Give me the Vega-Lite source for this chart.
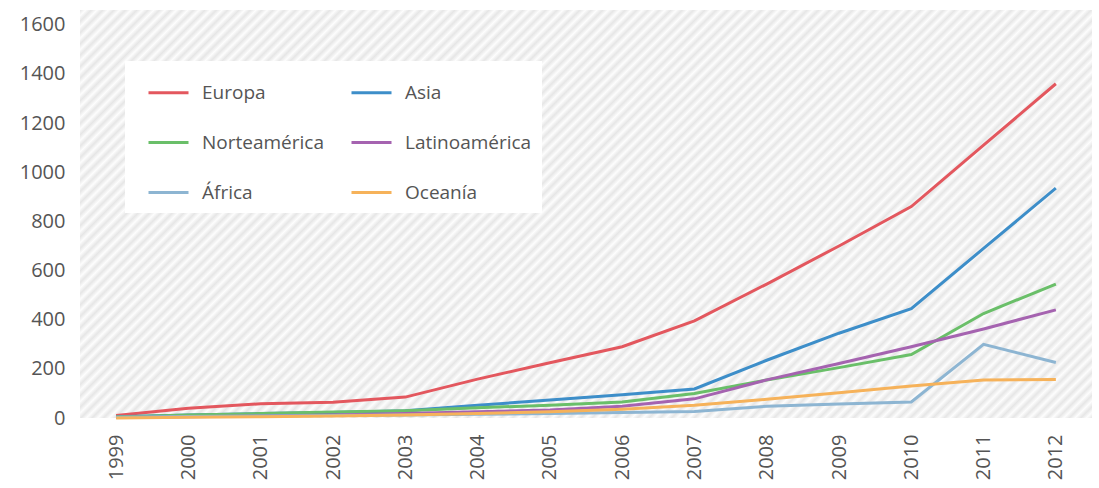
{
  "$schema": "https://vega.github.io/schema/vega-lite/v6.json",
  "width": 1012,
  "height": 408,
  "autosize": {"type": "none"},
  "padding": {"left": 80, "top": 10, "right": 7, "bottom": 70},
  "background": "white",
  "config": {
    "font": "Open Sans",
    "view": {
      "stroke": null,
      "fill": {
        "gradient": "linear", "x1": 0, "y1": 0, "x2": 1.207, "y2": 0.487,
        "stops": [
{"offset":0,"color":"#e6e6e6"},{"offset":0.004,"color":"#fdfdfd"},{"offset":0.008,"color":"#e6e6e6"},{"offset":0.012,"color":"#fdfdfd"},{"offset":0.016,"color":"#e6e6e6"},{"offset":0.02,"color":"#fdfdfd"},{"offset":0.024,"color":"#e6e6e6"},{"offset":0.028,"color":"#fdfdfd"},{"offset":0.032,"color":"#e6e6e6"},{"offset":0.036,"color":"#fdfdfd"},
{"offset":0.04,"color":"#e6e6e6"},{"offset":0.044,"color":"#fdfdfd"},{"offset":0.048,"color":"#e6e6e6"},{"offset":0.052,"color":"#fdfdfd"},{"offset":0.056,"color":"#e6e6e6"},{"offset":0.06,"color":"#fdfdfd"},{"offset":0.064,"color":"#e6e6e6"},{"offset":0.068,"color":"#fdfdfd"},{"offset":0.072,"color":"#e6e6e6"},{"offset":0.076,"color":"#fdfdfd"},
{"offset":0.08,"color":"#e6e6e6"},{"offset":0.084,"color":"#fdfdfd"},{"offset":0.088,"color":"#e6e6e6"},{"offset":0.092,"color":"#fdfdfd"},{"offset":0.096,"color":"#e6e6e6"},{"offset":0.1,"color":"#fdfdfd"},{"offset":0.104,"color":"#e6e6e6"},{"offset":0.108,"color":"#fdfdfd"},{"offset":0.112,"color":"#e6e6e6"},{"offset":0.116,"color":"#fdfdfd"},
{"offset":0.12,"color":"#e6e6e6"},{"offset":0.124,"color":"#fdfdfd"},{"offset":0.128,"color":"#e6e6e6"},{"offset":0.132,"color":"#fdfdfd"},{"offset":0.136,"color":"#e6e6e6"},{"offset":0.14,"color":"#fdfdfd"},{"offset":0.144,"color":"#e6e6e6"},{"offset":0.148,"color":"#fdfdfd"},{"offset":0.152,"color":"#e6e6e6"},{"offset":0.156,"color":"#fdfdfd"},
{"offset":0.16,"color":"#e6e6e6"},{"offset":0.164,"color":"#fdfdfd"},{"offset":0.168,"color":"#e6e6e6"},{"offset":0.172,"color":"#fdfdfd"},{"offset":0.176,"color":"#e6e6e6"},{"offset":0.18,"color":"#fdfdfd"},{"offset":0.184,"color":"#e6e6e6"},{"offset":0.188,"color":"#fdfdfd"},{"offset":0.192,"color":"#e6e6e6"},{"offset":0.196,"color":"#fdfdfd"},
{"offset":0.2,"color":"#e6e6e6"},{"offset":0.204,"color":"#fdfdfd"},{"offset":0.208,"color":"#e6e6e6"},{"offset":0.212,"color":"#fdfdfd"},{"offset":0.216,"color":"#e6e6e6"},{"offset":0.22,"color":"#fdfdfd"},{"offset":0.224,"color":"#e6e6e6"},{"offset":0.228,"color":"#fdfdfd"},{"offset":0.232,"color":"#e6e6e6"},{"offset":0.236,"color":"#fdfdfd"},
{"offset":0.24,"color":"#e6e6e6"},{"offset":0.244,"color":"#fdfdfd"},{"offset":0.248,"color":"#e6e6e6"},{"offset":0.252,"color":"#fdfdfd"},{"offset":0.256,"color":"#e6e6e6"},{"offset":0.26,"color":"#fdfdfd"},{"offset":0.264,"color":"#e6e6e6"},{"offset":0.268,"color":"#fdfdfd"},{"offset":0.272,"color":"#e6e6e6"},{"offset":0.276,"color":"#fdfdfd"},
{"offset":0.28,"color":"#e6e6e6"},{"offset":0.284,"color":"#fdfdfd"},{"offset":0.288,"color":"#e6e6e6"},{"offset":0.292,"color":"#fdfdfd"},{"offset":0.296,"color":"#e6e6e6"},{"offset":0.3,"color":"#fdfdfd"},{"offset":0.304,"color":"#e6e6e6"},{"offset":0.308,"color":"#fdfdfd"},{"offset":0.312,"color":"#e6e6e6"},{"offset":0.316,"color":"#fdfdfd"},
{"offset":0.32,"color":"#e6e6e6"},{"offset":0.324,"color":"#fdfdfd"},{"offset":0.328,"color":"#e6e6e6"},{"offset":0.332,"color":"#fdfdfd"},{"offset":0.336,"color":"#e6e6e6"},{"offset":0.34,"color":"#fdfdfd"},{"offset":0.344,"color":"#e6e6e6"},{"offset":0.348,"color":"#fdfdfd"},{"offset":0.352,"color":"#e6e6e6"},{"offset":0.356,"color":"#fdfdfd"},
{"offset":0.36,"color":"#e6e6e6"},{"offset":0.364,"color":"#fdfdfd"},{"offset":0.368,"color":"#e6e6e6"},{"offset":0.372,"color":"#fdfdfd"},{"offset":0.376,"color":"#e6e6e6"},{"offset":0.38,"color":"#fdfdfd"},{"offset":0.384,"color":"#e6e6e6"},{"offset":0.388,"color":"#fdfdfd"},{"offset":0.392,"color":"#e6e6e6"},{"offset":0.396,"color":"#fdfdfd"},
{"offset":0.4,"color":"#e6e6e6"},{"offset":0.404,"color":"#fdfdfd"},{"offset":0.408,"color":"#e6e6e6"},{"offset":0.412,"color":"#fdfdfd"},{"offset":0.416,"color":"#e6e6e6"},{"offset":0.42,"color":"#fdfdfd"},{"offset":0.424,"color":"#e6e6e6"},{"offset":0.428,"color":"#fdfdfd"},{"offset":0.432,"color":"#e6e6e6"},{"offset":0.436,"color":"#fdfdfd"},
{"offset":0.44,"color":"#e6e6e6"},{"offset":0.444,"color":"#fdfdfd"},{"offset":0.448,"color":"#e6e6e6"},{"offset":0.452,"color":"#fdfdfd"},{"offset":0.456,"color":"#e6e6e6"},{"offset":0.46,"color":"#fdfdfd"},{"offset":0.464,"color":"#e6e6e6"},{"offset":0.468,"color":"#fdfdfd"},{"offset":0.472,"color":"#e6e6e6"},{"offset":0.476,"color":"#fdfdfd"},
{"offset":0.48,"color":"#e6e6e6"},{"offset":0.484,"color":"#fdfdfd"},{"offset":0.488,"color":"#e6e6e6"},{"offset":0.492,"color":"#fdfdfd"},{"offset":0.496,"color":"#e6e6e6"},{"offset":0.5,"color":"#fdfdfd"},{"offset":0.504,"color":"#e6e6e6"},{"offset":0.508,"color":"#fdfdfd"},{"offset":0.512,"color":"#e6e6e6"},{"offset":0.516,"color":"#fdfdfd"},
{"offset":0.52,"color":"#e6e6e6"},{"offset":0.524,"color":"#fdfdfd"},{"offset":0.528,"color":"#e6e6e6"},{"offset":0.532,"color":"#fdfdfd"},{"offset":0.536,"color":"#e6e6e6"},{"offset":0.54,"color":"#fdfdfd"},{"offset":0.544,"color":"#e6e6e6"},{"offset":0.548,"color":"#fdfdfd"},{"offset":0.552,"color":"#e6e6e6"},{"offset":0.556,"color":"#fdfdfd"},
{"offset":0.56,"color":"#e6e6e6"},{"offset":0.564,"color":"#fdfdfd"},{"offset":0.568,"color":"#e6e6e6"},{"offset":0.572,"color":"#fdfdfd"},{"offset":0.576,"color":"#e6e6e6"},{"offset":0.58,"color":"#fdfdfd"},{"offset":0.584,"color":"#e6e6e6"},{"offset":0.588,"color":"#fdfdfd"},{"offset":0.592,"color":"#e6e6e6"},{"offset":0.596,"color":"#fdfdfd"},
{"offset":0.6,"color":"#e6e6e6"},{"offset":0.604,"color":"#fdfdfd"},{"offset":0.608,"color":"#e6e6e6"},{"offset":0.612,"color":"#fdfdfd"},{"offset":0.616,"color":"#e6e6e6"},{"offset":0.62,"color":"#fdfdfd"},{"offset":0.624,"color":"#e6e6e6"},{"offset":0.628,"color":"#fdfdfd"},{"offset":0.632,"color":"#e6e6e6"},{"offset":0.636,"color":"#fdfdfd"},
{"offset":0.64,"color":"#e6e6e6"},{"offset":0.644,"color":"#fdfdfd"},{"offset":0.648,"color":"#e6e6e6"},{"offset":0.652,"color":"#fdfdfd"},{"offset":0.656,"color":"#e6e6e6"},{"offset":0.66,"color":"#fdfdfd"},{"offset":0.664,"color":"#e6e6e6"},{"offset":0.668,"color":"#fdfdfd"},{"offset":0.672,"color":"#e6e6e6"},{"offset":0.676,"color":"#fdfdfd"},
{"offset":0.68,"color":"#e6e6e6"},{"offset":0.684,"color":"#fdfdfd"},{"offset":0.688,"color":"#e6e6e6"},{"offset":0.692,"color":"#fdfdfd"},{"offset":0.696,"color":"#e6e6e6"},{"offset":0.7,"color":"#fdfdfd"},{"offset":0.704,"color":"#e6e6e6"},{"offset":0.708,"color":"#fdfdfd"},{"offset":0.712,"color":"#e6e6e6"},{"offset":0.716,"color":"#fdfdfd"},
{"offset":0.72,"color":"#e6e6e6"},{"offset":0.724,"color":"#fdfdfd"},{"offset":0.728,"color":"#e6e6e6"},{"offset":0.732,"color":"#fdfdfd"},{"offset":0.736,"color":"#e6e6e6"},{"offset":0.74,"color":"#fdfdfd"},{"offset":0.744,"color":"#e6e6e6"},{"offset":0.748,"color":"#fdfdfd"},{"offset":0.752,"color":"#e6e6e6"},{"offset":0.756,"color":"#fdfdfd"},
{"offset":0.76,"color":"#e6e6e6"},{"offset":0.764,"color":"#fdfdfd"},{"offset":0.768,"color":"#e6e6e6"},{"offset":0.772,"color":"#fdfdfd"},{"offset":0.776,"color":"#e6e6e6"},{"offset":0.78,"color":"#fdfdfd"},{"offset":0.784,"color":"#e6e6e6"},{"offset":0.788,"color":"#fdfdfd"},{"offset":0.792,"color":"#e6e6e6"},{"offset":0.796,"color":"#fdfdfd"},
{"offset":0.8,"color":"#e6e6e6"},{"offset":0.804,"color":"#fdfdfd"},{"offset":0.808,"color":"#e6e6e6"},{"offset":0.812,"color":"#fdfdfd"},{"offset":0.816,"color":"#e6e6e6"},{"offset":0.82,"color":"#fdfdfd"},{"offset":0.824,"color":"#e6e6e6"},{"offset":0.828,"color":"#fdfdfd"},{"offset":0.832,"color":"#e6e6e6"},{"offset":0.836,"color":"#fdfdfd"},
{"offset":0.84,"color":"#e6e6e6"},{"offset":0.844,"color":"#fdfdfd"},{"offset":0.848,"color":"#e6e6e6"},{"offset":0.852,"color":"#fdfdfd"},{"offset":0.856,"color":"#e6e6e6"},{"offset":0.86,"color":"#fdfdfd"},{"offset":0.864,"color":"#e6e6e6"},{"offset":0.868,"color":"#fdfdfd"},{"offset":0.872,"color":"#e6e6e6"},{"offset":0.876,"color":"#fdfdfd"},
{"offset":0.88,"color":"#e6e6e6"},{"offset":0.884,"color":"#fdfdfd"},{"offset":0.888,"color":"#e6e6e6"},{"offset":0.892,"color":"#fdfdfd"},{"offset":0.896,"color":"#e6e6e6"},{"offset":0.9,"color":"#fdfdfd"},{"offset":0.904,"color":"#e6e6e6"},{"offset":0.908,"color":"#fdfdfd"},{"offset":0.912,"color":"#e6e6e6"},{"offset":0.916,"color":"#fdfdfd"},
{"offset":0.92,"color":"#e6e6e6"},{"offset":0.924,"color":"#fdfdfd"},{"offset":0.928,"color":"#e6e6e6"},{"offset":0.932,"color":"#fdfdfd"},{"offset":0.936,"color":"#e6e6e6"},{"offset":0.94,"color":"#fdfdfd"},{"offset":0.944,"color":"#e6e6e6"},{"offset":0.948,"color":"#fdfdfd"},{"offset":0.952,"color":"#e6e6e6"},{"offset":0.956,"color":"#fdfdfd"},
{"offset":0.96,"color":"#e6e6e6"},{"offset":0.964,"color":"#fdfdfd"},{"offset":0.968,"color":"#e6e6e6"},{"offset":0.972,"color":"#fdfdfd"},{"offset":0.976,"color":"#e6e6e6"},{"offset":0.98,"color":"#fdfdfd"},{"offset":0.984,"color":"#e6e6e6"},{"offset":0.988,"color":"#fdfdfd"},{"offset":0.992,"color":"#e6e6e6"},{"offset":0.996,"color":"#fdfdfd"},
{"offset":1,"color":"#e6e6e6"}
        ]
      }
    },
    "axis": {"grid": false, "domain": false, "ticks": false, "labelColor": "#555555", "labelFontSize": 20, "labelFont": "Open Sans"}
  },
  "data": {
    "values": [
      {"year": 1999, "region": "Europa", "value": 10},
      {"year": 2000, "region": "Europa", "value": 40},
      {"year": 2001, "region": "Europa", "value": 58},
      {"year": 2002, "region": "Europa", "value": 64},
      {"year": 2003, "region": "Europa", "value": 85},
      {"year": 2004, "region": "Europa", "value": 158},
      {"year": 2005, "region": "Europa", "value": 225},
      {"year": 2006, "region": "Europa", "value": 290},
      {"year": 2007, "region": "Europa", "value": 395},
      {"year": 2008, "region": "Europa", "value": 545},
      {"year": 2009, "region": "Europa", "value": 700},
      {"year": 2010, "region": "Europa", "value": 860},
      {"year": 2011, "region": "Europa", "value": 1110},
      {"year": 2012, "region": "Europa", "value": 1360},
      {"year": 1999, "region": "Asia", "value": 5},
      {"year": 2000, "region": "Asia", "value": 12},
      {"year": 2001, "region": "Asia", "value": 18},
      {"year": 2002, "region": "Asia", "value": 22},
      {"year": 2003, "region": "Asia", "value": 30},
      {"year": 2004, "region": "Asia", "value": 52},
      {"year": 2005, "region": "Asia", "value": 73},
      {"year": 2006, "region": "Asia", "value": 95},
      {"year": 2007, "region": "Asia", "value": 118},
      {"year": 2008, "region": "Asia", "value": 235},
      {"year": 2009, "region": "Asia", "value": 345},
      {"year": 2010, "region": "Asia", "value": 445},
      {"year": 2011, "region": "Asia", "value": 690},
      {"year": 2012, "region": "Asia", "value": 935},
      {"year": 1999, "region": "Norteamérica", "value": 4},
      {"year": 2000, "region": "Norteamérica", "value": 12},
      {"year": 2001, "region": "Norteamérica", "value": 18},
      {"year": 2002, "region": "Norteamérica", "value": 24},
      {"year": 2003, "region": "Norteamérica", "value": 30},
      {"year": 2004, "region": "Norteamérica", "value": 42},
      {"year": 2005, "region": "Norteamérica", "value": 52},
      {"year": 2006, "region": "Norteamérica", "value": 65},
      {"year": 2007, "region": "Norteamérica", "value": 100},
      {"year": 2008, "region": "Norteamérica", "value": 155},
      {"year": 2009, "region": "Norteamérica", "value": 205},
      {"year": 2010, "region": "Norteamérica", "value": 258},
      {"year": 2011, "region": "Norteamérica", "value": 425},
      {"year": 2012, "region": "Norteamérica", "value": 545},
      {"year": 1999, "region": "Latinoamérica", "value": 2},
      {"year": 2000, "region": "Latinoamérica", "value": 5},
      {"year": 2001, "region": "Latinoamérica", "value": 8},
      {"year": 2002, "region": "Latinoamérica", "value": 12},
      {"year": 2003, "region": "Latinoamérica", "value": 18},
      {"year": 2004, "region": "Latinoamérica", "value": 25},
      {"year": 2005, "region": "Latinoamérica", "value": 33},
      {"year": 2006, "region": "Latinoamérica", "value": 48},
      {"year": 2007, "region": "Latinoamérica", "value": 78},
      {"year": 2008, "region": "Latinoamérica", "value": 155},
      {"year": 2009, "region": "Latinoamérica", "value": 222},
      {"year": 2010, "region": "Latinoamérica", "value": 290},
      {"year": 2011, "region": "Latinoamérica", "value": 362},
      {"year": 2012, "region": "Latinoamérica", "value": 440},
      {"year": 1999, "region": "África", "value": 3},
      {"year": 2000, "region": "África", "value": 6},
      {"year": 2001, "region": "África", "value": 8},
      {"year": 2002, "region": "África", "value": 10},
      {"year": 2003, "region": "África", "value": 12},
      {"year": 2004, "region": "África", "value": 15},
      {"year": 2005, "region": "África", "value": 18},
      {"year": 2006, "region": "África", "value": 22},
      {"year": 2007, "region": "África", "value": 26},
      {"year": 2008, "region": "África", "value": 48},
      {"year": 2009, "region": "África", "value": 57},
      {"year": 2010, "region": "África", "value": 65},
      {"year": 2011, "region": "África", "value": 300},
      {"year": 2012, "region": "África", "value": 226},
      {"year": 1999, "region": "Oceanía", "value": 0},
      {"year": 2000, "region": "Oceanía", "value": 3},
      {"year": 2001, "region": "Oceanía", "value": 5},
      {"year": 2002, "region": "Oceanía", "value": 8},
      {"year": 2003, "region": "Oceanía", "value": 12},
      {"year": 2004, "region": "Oceanía", "value": 18},
      {"year": 2005, "region": "Oceanía", "value": 25},
      {"year": 2006, "region": "Oceanía", "value": 36},
      {"year": 2007, "region": "Oceanía", "value": 52},
      {"year": 2008, "region": "Oceanía", "value": 76},
      {"year": 2009, "region": "Oceanía", "value": 103},
      {"year": 2010, "region": "Oceanía", "value": 130},
      {"year": 2011, "region": "Oceanía", "value": 155},
      {"year": 2012, "region": "Oceanía", "value": 157}
    ]
  },
  "mark": {"type": "line", "strokeWidth": 3},
  "encoding": {
    "x": {
      "field": "year", "type": "ordinal",
      "scale": {"type": "point", "padding": 0.5},
      "axis": {"title": null, "labelAngle": -90, "labelPadding": 16}
    },
    "y": {
      "field": "value", "type": "quantitative",
      "scale": {"domain": [0, 1660], "nice": false},
      "axis": {"title": null, "format": "d", "values": [0, 200, 400, 600, 800, 1000, 1200, 1400, 1600], "labelPadding": 15}
    },
    "color": {
      "field": "region", "type": "nominal",
      "scale": {
        "domain": ["Europa", "Norteamérica", "África", "Asia", "Latinoamérica", "Oceanía"],
        "range": ["#e3575e", "#6abf69", "#8db5d2", "#3d8ec9", "#a563b0", "#f6b25a"]
      },
      "legend": {
        "title": null, "orient": "none", "legendX": 45, "legendY": 51,
        "columns": 2, "symbolType": "stroke", "symbolSize": 1600, "symbolStrokeWidth": 3,
        "symbolOffset": 12,
        "labelFontSize": 19, "labelColor": "#555555", "labelFont": "Open Sans",
        "labelOffset": 12, "labelLimit": 300, "rowPadding": 18, "columnPadding": 14,
        "padding": 10, "fillColor": "white"
      }
    }
  }
}
